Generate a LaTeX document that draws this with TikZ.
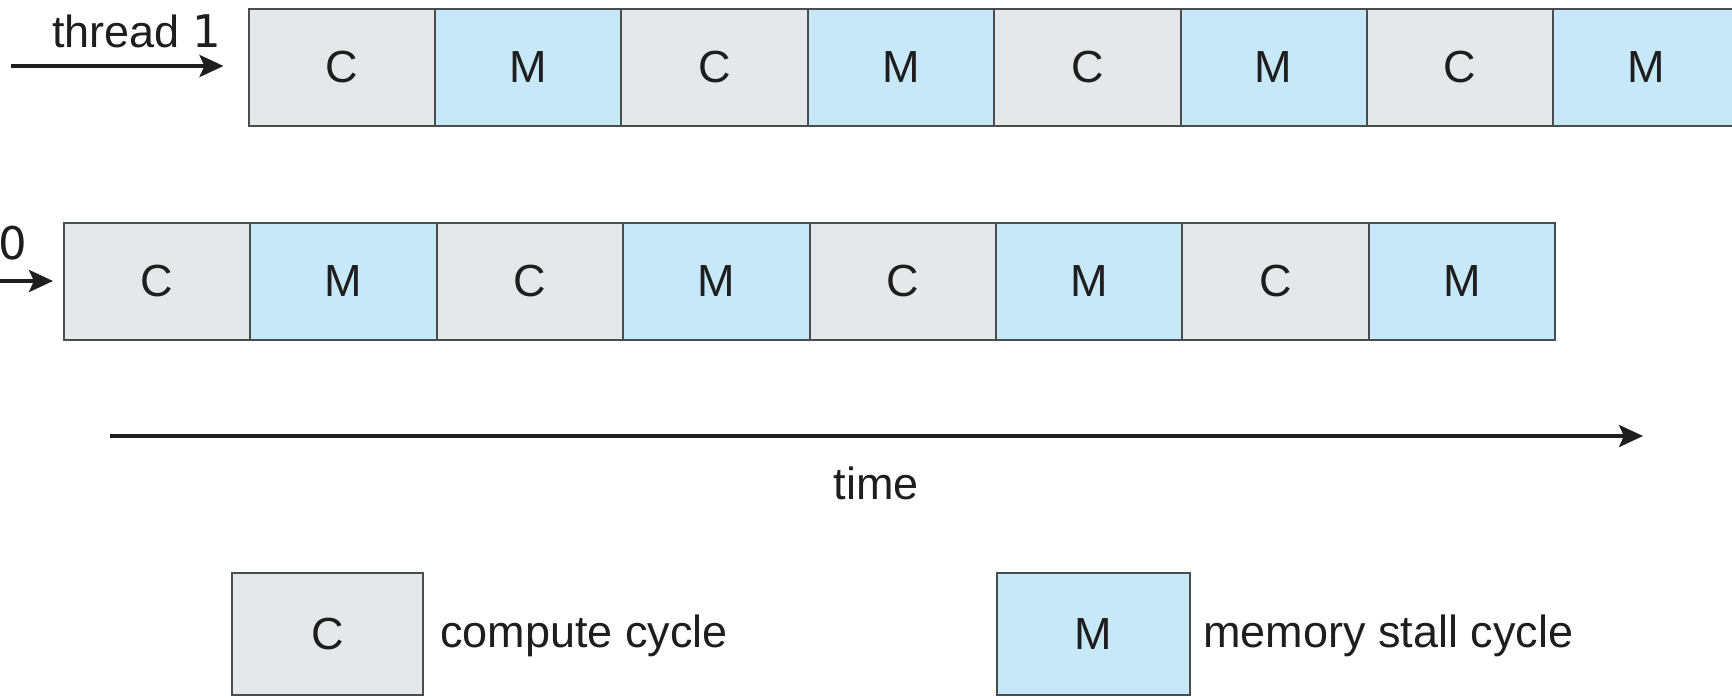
\documentclass[tikz,border=0pt]{standalone}
\usepackage{fontspec}
\setmainfont{Liberation Sans}
\newfontfamily\digitfont{DejaVu Sans}
\usetikzlibrary{arrows.meta}

\definecolor{computefill}{HTML}{E6E7E8}
\definecolor{stallfill}{HTML}{C7E8F9}
\definecolor{cellborder}{HTML}{4A4D50}
\definecolor{inkdark}{HTML}{1E1E1E}

\tikzset{
  cell/.style={draw=cellborder, line width=1pt, rectangle, inner sep=0pt,
    minimum width=93.2pt, minimum height=58.5pt,
    font=\fontsize{22.5}{26}\selectfont, text=inkdark},
  ccell/.style={cell, fill=computefill},
  mcell/.style={cell, fill=stallfill},
  keyc/.style={ccell, minimum width=95.5pt, minimum height=61pt},
  keym/.style={mcell, minimum width=96.5pt, minimum height=61pt},
  caption/.style={inner sep=0pt, font=\fontsize{22.5}{26}\selectfont, text=inkdark},
  flow/.style={line width=2pt, draw=inkdark,
    -{Stealth[length=12pt, width=11pt, inset=2.5pt]}}
}

\begin{document}
\begin{tikzpicture}[x=0.5pt, y=-0.5pt]
  \useasboundingbox (0,0) rectangle (1732,697);

  % thread 1: alternating compute / memory-stall cycles
  \foreach \k in {0,...,7} {
    \pgfmathsetmacro{\cx}{248.5+93.2+\k*186.4}
    \pgfmathtruncatemacro{\parity}{mod(\k,2)}
    \ifnum\parity=0
      \node[ccell] (ta\k) at (\cx,67) {C};
    \else
      \node[mcell] (ta\k) at (\cx,67) {M};
    \fi
  }

  % thread 0: same pattern, one cycle earlier
  \foreach \k in {0,...,7} {
    \pgfmathsetmacro{\cx}{64+93.2+\k*186.4}
    \pgfmathtruncatemacro{\parity}{mod(\k,2)}
    \ifnum\parity=0
      \node[ccell] (tb\k) at (\cx,281.5) {C};
    \else
      \node[mcell] (tb\k) at (\cx,281.5) {M};
    \fi
  }

  % thread labels and entry arrows
  \node[caption, anchor=base west] (lab1) at (52,47) {thread {\digitfont 1}};
  \node[caption, anchor=base east] (lab0) at (28,259) {thread {\digitfont 0}};
  \coordinate (in1) at (11,66);
  \coordinate (in0) at (-10,281);
  \draw[flow, shorten >=12pt] (in1) -- (ta0.west |- in1);
  \draw[flow, shorten >=5pt] (in0) -- (tb0.west |- in0);

  % time axis
  \coordinate (t0) at (110,436);
  \coordinate (t1) at (1643,436);
  \draw[flow] (t0) -- (t1);
  \node[caption] (timelab) at (876,483) {time};

  % legend
  \node[keyc] (keyC) at (327.5,634) {C};
  \node[caption, anchor=west] (keyCtxt) at (440,636) {compute cycle};
  \node[keym] (keyM) at (1093.5,634) {M};
  \node[caption, anchor=west] (keyMtxt) at (1203,636) {memory stall cycle};
\end{tikzpicture}
\end{document}
